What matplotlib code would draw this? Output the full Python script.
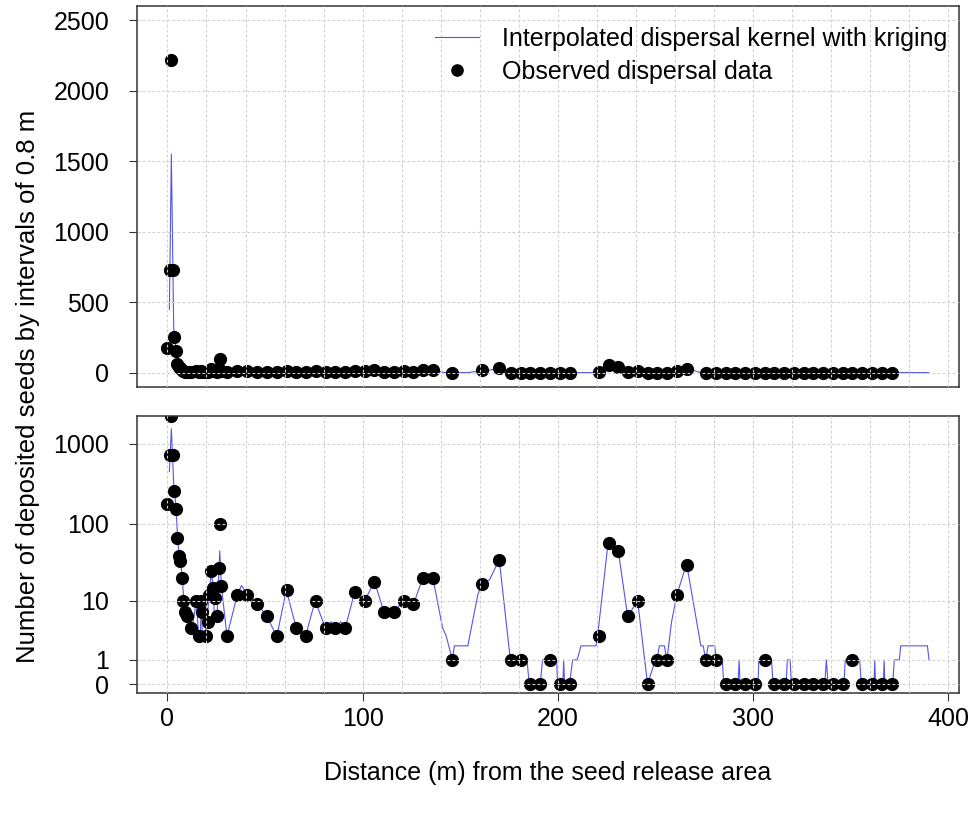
import numpy as np
import matplotlib
matplotlib.use('Agg')
import matplotlib.pyplot as plt

plt.rcParams['font.family'] = ['Liberation Sans', 'DejaVu Sans']

# observed dispersal data (distance in m, seed counts)
dist = [0.0, 1.2, 2.0, 3.0, 3.6, 4.4, 5.0, 5.8, 6.6, 7.2, 8.0, 8.8, 9.8, 11.9,
        14.8, 16.0, 17.4, 17.9, 19.5, 20.8, 21.3, 22.5, 23.4, 24.2, 25.4, 26.4, 27.0, 27.6,
        30.6, 35.8, 41.0, 46.0, 51.0, 56.0, 61.0, 66.0, 71.0, 76.0, 81.0, 86.0, 91.0,
        96.0, 101.0, 106.0, 111.0, 116.0, 121.0, 126.0, 131.0, 136.0, 146.0, 161.0, 170.0,
        176.0, 181.0, 186.0, 191.0, 196.0, 201.0, 206.0, 221.0, 226.0, 231.0, 236.0, 241.0,
        246.0, 251.0, 256.0, 261.0, 266.0, 276.0, 281.0, 286.0, 291.0, 296.0, 301.0, 306.0,
        311.0, 316.0, 321.0, 326.0, 331.0, 336.0, 341.0, 346.0, 351.0, 356.0, 361.0, 366.0, 371.0]
seeds = [175, 730, 2220, 730, 255, 155, 66, 39, 33, 20, 10, 7, 6, 4,
         10, 3, 10, 7, 3, 5, 12, 25, 15, 11, 6, 27, 100, 16,
         3, 12, 12, 9, 6, 3, 14, 4, 3, 10, 4, 4, 4,
         13, 10, 18, 7, 7, 10, 9, 20, 20, 1, 17, 35,
         1, 1, 0, 0, 1, 0, 0, 3, 57, 45, 6, 10,
         0, 1, 1, 12, 30, 1, 1, 0, 0, 0, 0, 1,
         0, 0, 0, 0, 0, 0, 0, 0, 1, 0, 0, 0, 0]

# kriging curve, vertices
krig_x = [1.0, 2.0, 3.2, 4.4, 5.2, 6.0, 6.8, 7.6, 8.4, 9.2, 10.0, 11.9, 13.2, 14.8, 16.0,
          16.8, 17.4, 17.9, 19.2, 20.3, 21.3, 22.5, 23.4, 24.2, 25.4, 26.8, 27.6, 30.5,
          35.8, 37.9, 41.3, 46.1, 51.0, 53.9, 56.1, 60.9, 66.0, 70.8, 75.7, 80.9, 83.8,
          86.0, 88.9, 91.1, 95.9, 101.0, 106.1, 110.9, 116.0, 121.1, 126.1, 130.8, 133.4,
          136.0, 141.0, 142.8, 146.0, 147.0, 153.9, 159.0, 161.0, 165.0, 170.0, 175.7,
          181.0, 184.2, 185.4, 191.0, 192.2, 196.0, 199.4, 199.9, 202.6, 203.0, 203.5,
          206.0, 207.6, 209.9, 211.9, 219.6, 220.4, 225.8, 231.0, 235.8, 240.9, 246.0,
          250.0, 250.8, 252.0, 254.6, 255.9, 258.3, 261.0, 266.0, 273.3, 274.5, 275.8,
          277.0, 280.4, 281.3, 284.3, 285.0, 292.4, 292.9, 293.4, 302.6, 303.0, 309.5,
          310.3, 317.0, 317.6, 319.0, 319.7, 336.8, 337.6, 338.5, 346.6, 347.3, 354.7,
          355.5, 362.0, 362.4, 362.8, 366.8, 367.2, 367.6, 371.6, 372.4, 375.0, 375.7,
          389.4, 390.2]
krig_y = [450, 1550, 320, 160, 66, 40, 33, 20, 10, 7, 6, 4, 5, 10, 3,
          3, 10, 3, 3, 5, 12, 25, 15, 5, 6, 45, 16, 3,
          12, 16, 12, 9, 6, 4, 3, 14, 4, 3, 10, 4, 5,
          4, 5, 4, 13, 10, 18, 7, 7, 10, 9, 20, 23,
          20, 4, 3, 1, 2, 2, 12, 17, 19, 35, 1,
          1, 1, 0, 0, 1, 1, 1, 0, 0, 1, 0,
          0, 1, 1, 2, 2, 3, 58, 45, 6, 10, 0,
          1, 1, 2, 2, 1, 5, 12, 31, 2, 2, 1,
          2, 2, 1, 1, 0, 0, 1, 0, 0, 1, 1,
          0, 0, 1, 1, 0, 0, 1, 0, 0, 1, 1,
          0, 0, 1, 0, 0, 1, 0, 0, 1, 1, 2,
          2, 1]

kcol = '#5555e6'
gcol = '#cfcfcf'
fs = 18

fig = plt.figure(figsize=(9.71, 8.13), dpi=100)
ax1 = fig.add_axes([0.1411, 0.5240, 0.8466, 0.4686])
ax2 = fig.add_axes([0.1411, 0.1476, 0.8466, 0.3407])

for ax in (ax1, ax2):
    ax.plot(krig_x, krig_y, color=kcol, lw=0.8, zorder=2,
            label='Interpolated dispersal kernel with kriging')
    ax.plot(dist, seeds, 'o', color='black', ms=8.5, zorder=2,
            label='Observed dispersal data')
    ax.set_xlim(-15.6, 405.6)
    ax.set_xticks(np.arange(0, 401, 20), minor=True)
    ax.set_xticks([0, 100, 200, 300, 400])
    ax.grid(True, which='both', axis='x', color=gcol, lw=0.8, linestyle=(0, (2.5, 2)))
    ax.grid(True, which='major', axis='y', color=gcol, lw=0.8, linestyle=(0, (2.5, 2)))
    ax.set_axisbelow(False)
    ax.tick_params(axis='both', which='major', direction='out', length=6, width=0.8,
                   labelsize=fs, color='#333333')
    ax.tick_params(axis='y', pad=14)
    ax.tick_params(axis='x', which='minor', length=0)
    for s in ax.spines.values():
        s.set_linewidth(1.1)
        s.set_color('#333333')

# linear panel
ax1.set_ylim(-100, 2600)
ax1.set_yticks([0, 500, 1000, 1500, 2000, 2500])
ax1.tick_params(axis='x', which='both', bottom=False, labelbottom=False)
ax1.legend(loc='upper right', bbox_to_anchor=(0.9854, 0.946), frameon=False,
           fontsize=fs, handlelength=1.76, handletextpad=0.92, labelspacing=0.36,
           borderaxespad=0, borderpad=0, markerscale=0.95)

# log(x+1) panel
ax2.set_yscale('function', functions=(lambda v: np.log10(np.clip(v, -0.99, None) + 1),
                                      lambda t: 10 ** t - 1))
ax2.set_ylim(-0.228, 2238)
ax2.set_yticks([0, 1, 10, 100, 1000])
ax2.set_yticklabels(['0', '1', '10', '100', '1000'])
ax2.yaxis.set_minor_locator(matplotlib.ticker.NullLocator())
ax2.tick_params(axis='x', pad=4)

fig.text(0.029, 0.525, 'Number of deposited seeds by intervals of 0.8 m', rotation=90,
         ha='center', va='center', fontsize=18.5)
fig.text(0.564, 0.049, 'Distance (m) from the seed release area', ha='center',
         va='center', fontsize=fs)

fig.savefig('out.png', dpi=100)
